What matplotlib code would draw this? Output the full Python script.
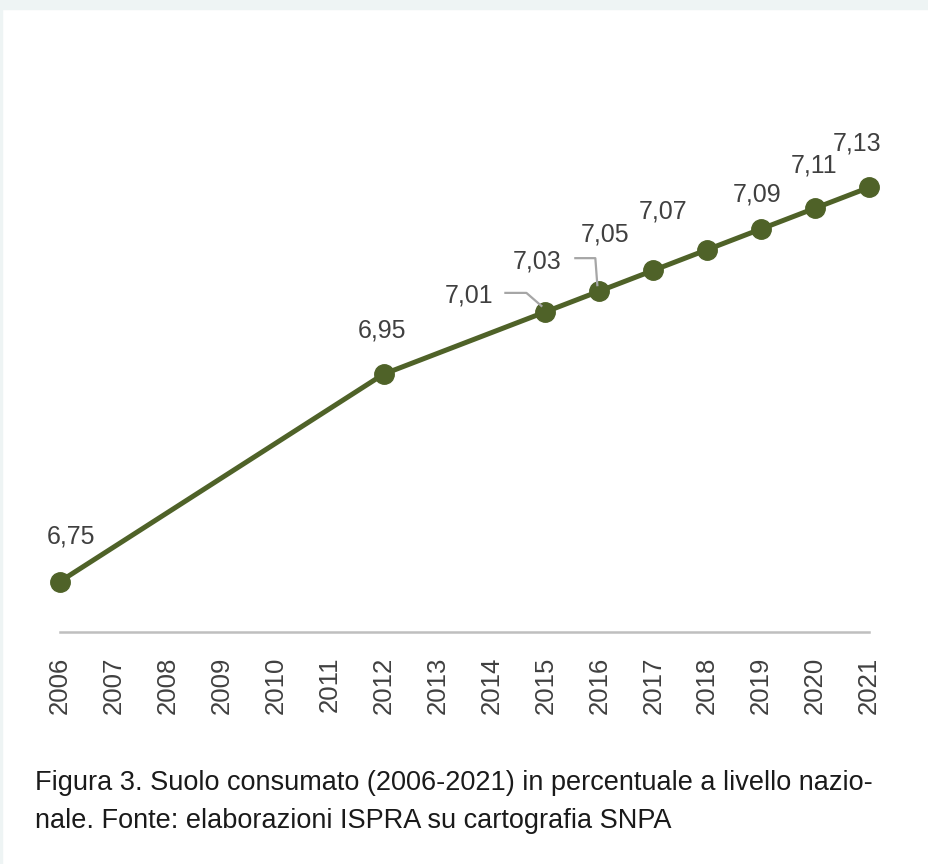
import matplotlib
matplotlib.use('Agg')
import matplotlib.pyplot as plt
from matplotlib.patches import Rectangle
from matplotlib.lines import Line2D
from matplotlib.transforms import IdentityTransform

# data
years = [2006, 2012, 2015, 2016, 2017, 2018, 2019, 2020, 2021]
values = [6.75, 6.95, 7.01, 7.03, 7.05, 7.07, 7.09, 7.11, 7.13]
tick_years = list(range(2006, 2022))
caption = ("Figura 3. Suolo consumato (2006-2021) in percentuale a livello nazio-\n"
           "nale. Fonte: elaborazioni ISPRA su cartografia SNPA")

# label offsets from their point, in pixels (x right, y up)
label_offsets = [(11, 45), (-2, 44), (-76, 16), (-62, 30), (-48, 36),
                 (-44, 38), (-4, 34), (-1, 43), (-12, 44)]
# leader lines (pixel offsets from the point) for 2015 and 2016
leaders = {2015: [(-40, 19), (-19, 19), (-4, 6)],
           2016: [(-24, 33), (-4, 33), (-2, 6)]}

GREEN = '#4f6228'
GREY_TXT = '#404040'
plt.rcParams['font.family'] = ['Liberation Sans', 'DejaVu Sans']

W, H = 929, 864
fig = plt.figure(figsize=(W / 100, H / 100), dpi=100)
fig.patch.set_facecolor('white')
fig.patches.append(Rectangle((0, 1 - 9 / H), 1, 9 / H, transform=fig.transFigure,
                             color='#eef4f4', zorder=0))
fig.patches.append(Rectangle((0, 0), 2 / W, 1, transform=fig.transFigure,
                             color='#eef4f4', zorder=0))

x0, x1 = 60, 869
ytop, ybot = 40, 632
ax = fig.add_axes([x0 / W, (H - ybot) / H, (x1 - x0) / W, (ybot - ytop) / H])
ax.set_xlim(2006, 2021)
ax.set_ylim(6.7013, 7.2722)
ax.set_facecolor('none')

ax.plot(years, values, color=GREEN, lw=3.6, marker='o', ms=14,
        markerfacecolor=GREEN, markeredgecolor=GREEN, clip_on=False, zorder=3)

for s in ['top', 'left', 'right']:
    ax.spines[s].set_visible(False)
ax.spines['bottom'].set_color('#bfbfbf')
ax.spines['bottom'].set_linewidth(1.8)
ax.set_yticks([])
ax.set_xticks(tick_years)
ax.set_xticklabels([str(y) for y in tick_years], rotation=90, fontsize=18.5,
                   color=GREY_TXT)
ax.tick_params(axis='x', length=0, pad=18)

for yr, v, (dx, dy) in zip(years, values, label_offsets):
    ax.annotate(f"{v:.2f}".replace('.', ','), (yr, v), xytext=(dx, dy),
                textcoords='offset pixels', ha='center', va='center',
                fontsize=18, color=GREY_TXT)

for yr, v in zip(years, values):
    if yr in leaders:
        px, py = ax.transData.transform((yr, v))
        xs = [px + dx for dx, dy in leaders[yr]]
        ys = [py + dy for dx, dy in leaders[yr]]
        fig.add_artist(Line2D(xs, ys, transform=IdentityTransform(),
                              color='#a6a6a6', lw=1.6, zorder=2))

fig.text(35 / W, 1 - 770 / H, caption, ha='left', va='top', fontsize=19.5,
         color='#1a1a1a', linespacing=1.6)

fig.savefig('out.png', dpi=100)
